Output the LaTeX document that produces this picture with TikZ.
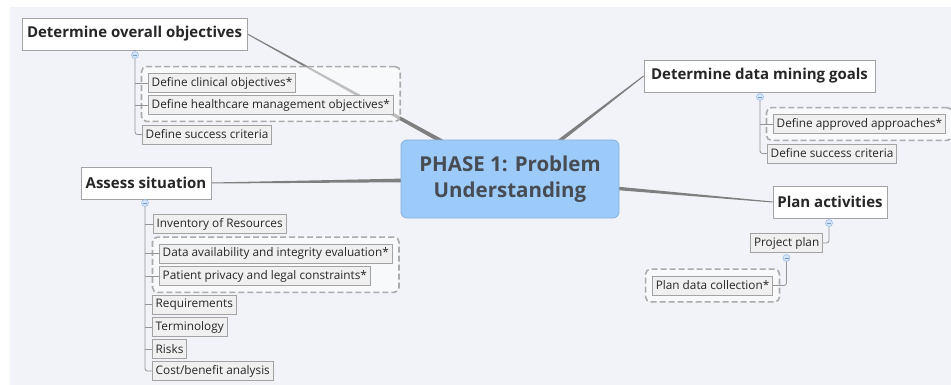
\documentclass[tikz,border=0pt]{standalone}
\usepackage{fontspec}
\setmainfont{Open Sans}
\usetikzlibrary{calc,fit}

\definecolor{panel}{HTML}{F2F3F8}
\definecolor{boxedge}{HTML}{A3A3A3}
\definecolor{leaffill}{HTML}{F0F0F0}
\definecolor{conn}{HTML}{7F7F7F}
\definecolor{branch}{HTML}{959595}
\definecolor{central}{HTML}{9CCBFA}
\definecolor{centraledge}{HTML}{86B2DC}
\definecolor{ink}{HTML}{262626}
\definecolor{centralink}{HTML}{474B52}
\definecolor{grp}{HTML}{ABABAB}
\definecolor{knobfill}{HTML}{D3E3F8}
\definecolor{knobedge}{HTML}{9FBFEB}

\pgfdeclarelayer{back}
\pgfdeclarelayer{groups}
\pgfsetlayers{back,groups,main}

% tapered link: thin at the first node, thick towards the second
\newcommand\taperedlink[2]{%
  \fill[conn] ($(#1)!0.5pt!90:(#2)$) -- ($(#2)!2.6pt!-90:(#1)$)
    -- ($(#2)!2.6pt!90:(#1)$) -- ($(#1)!0.5pt!-90:(#2)$) -- cycle;}

\tikzset{
  topicbox/.style={draw=boxedge, fill=white, line width=0.8pt,
    font=\bfseries\fontsize{15}{18}\selectfont, text=ink,
    minimum height=32pt, inner xsep=2pt, inner ysep=0pt},
  leafbox/.style={draw=boxedge, fill=leaffill, line width=0.8pt,
    font=\fontsize{11.8}{13}\selectfont, text=ink,
    minimum height=19pt, inner xsep=3.3pt, inner ysep=0pt, anchor=west},
  centralbox/.style={draw=centraledge, fill=central, line width=0.8pt,
    rounded corners=6pt, minimum width=218pt, minimum height=78pt,
    font=\bfseries\fontsize{20.5}{26}\selectfont, text=centralink, align=center},
  groupbox/.style={draw=grp, dash pattern=on 6pt off 3pt, line width=1.6pt,
    rounded corners=5pt, fill=white, fill opacity=0.5, inner sep=6.5pt},
  branchline/.style={draw=branch, line width=0.8pt, rounded corners=2.5pt},
  knob/.style={circle, draw=knobedge, fill=knobfill, minimum size=7pt,
    inner sep=0pt, line width=0.6pt,
    path picture={\draw[knobedge!80!black, line width=0.6pt]
      ($(path picture bounding box.center)+(-2pt,0)$) -- ++(4pt,0);}}
}

\begin{document}
\begin{tikzpicture}[x=1pt, y=-1pt]
\useasboundingbox (0,0) rectangle (951,385);

% central topic
\node[centralbox] (main) at (510,179) {PHASE 1: Problem\\Understanding};

% main branches
\node[topicbox, minimum width=225pt] (dov) at (134.5,34) {Determine overall objectives};
\node[topicbox, minimum width=231pt] (ddm) at (759.5,76) {Determine data mining goals};
\node[topicbox, minimum width=130pt] (as)  at (146,183) {Assess situation};
\node[topicbox, minimum width=114pt] (pa)  at (830,202) {Plan activities};

% collapse knobs
\node[knob] (k1) at (135,55) {};
\node[knob] (k2) at (760,97) {};
\node[knob] (k3) at (145,203) {};
\node[knob] (k4) at (829,223) {};

% objectives
\node[leafbox] (dco)  at (148,83)    {Define clinical objectives*};
\node[leafbox] (dhm)  at (148,105)   {Define healthcare management objectives*};
\node[leafbox] (dsc1) at (142,134.5) {Define success criteria};

% data mining goals
\node[leafbox] (daa)  at (773,124)   {Define approved approaches*};
\node[leafbox] (dsc2) at (767,153.5) {Define success criteria};

% situation
\node[leafbox] (inv) at (153,224)   {Inventory of Resources};
\node[leafbox] (dai) at (159,253.5) {Data availability and integrity evaluation*};
\node[leafbox] (ppl) at (159,276)   {Patient privacy and legal constraints*};
\node[leafbox] (req) at (152,304.5) {Requirements};
\node[leafbox] (ter) at (152,327)   {Terminology};
\node[leafbox] (ris) at (152,349)   {Risks};
\node[leafbox] (cba) at (152,371)   {Cost/benefit analysis};

% activities
\node[leafbox, anchor=east] (pp)  at (823,243)   {Project plan};
\node[knob] (k5) at (786.5,258) {};
\node[leafbox, anchor=east] (pdc) at (773,285.5) {Plan data collection*};

% panel and links to the central topic
\begin{pgfonlayer}{back}
  \fill[white] (0,0) rectangle (951,385);
  \fill[panel] (10,7) rectangle (951,385);
  \taperedlink{dov.east}{main.center}
  \taperedlink{ddm.west}{main.center}
  \taperedlink{as.east}{main.center}
  \taperedlink{pa.west}{main.center}
\end{pgfonlayer}

% dashed groups
\begin{pgfonlayer}{groups}
  \node[groupbox, fit=(dco)(dhm)] (g1) {};
  \node[groupbox, fit=(daa)] (g2) {};
  \node[groupbox, fit=(dai)(ppl)] (g3) {};
  \node[groupbox, fit=(pdc)] (g4) {};
\end{pgfonlayer}

% branch lines
\draw[branchline] (k1.south) -- (k1.south |- dsc1.west) -- (dsc1.west);
\draw[branchline] (k1.south |- dco.west) -- (dco.west);
\draw[branchline] (k1.south |- dhm.west) -- (dhm.west);

\draw[branchline] (k2.south) -- (k2.south |- dsc2.west) -- (dsc2.west);
\draw[branchline] (k2.south |- daa.west) -- (daa.west);

\draw[branchline] (k3.south) -- (k3.south |- cba.west) -- (cba.west);
\foreach \n in {inv,dai,ppl,req,ter,ris}
  \draw[branchline] (k3.south |- \n.west) -- (\n.west);

\draw[branchline] (k4.south) -- (k4.south |- pp.east) -- (pp.east);
\draw[branchline] (k5.south) -- (k5.south |- pdc.east) -- (pdc.east);
\end{tikzpicture}
\end{document}
